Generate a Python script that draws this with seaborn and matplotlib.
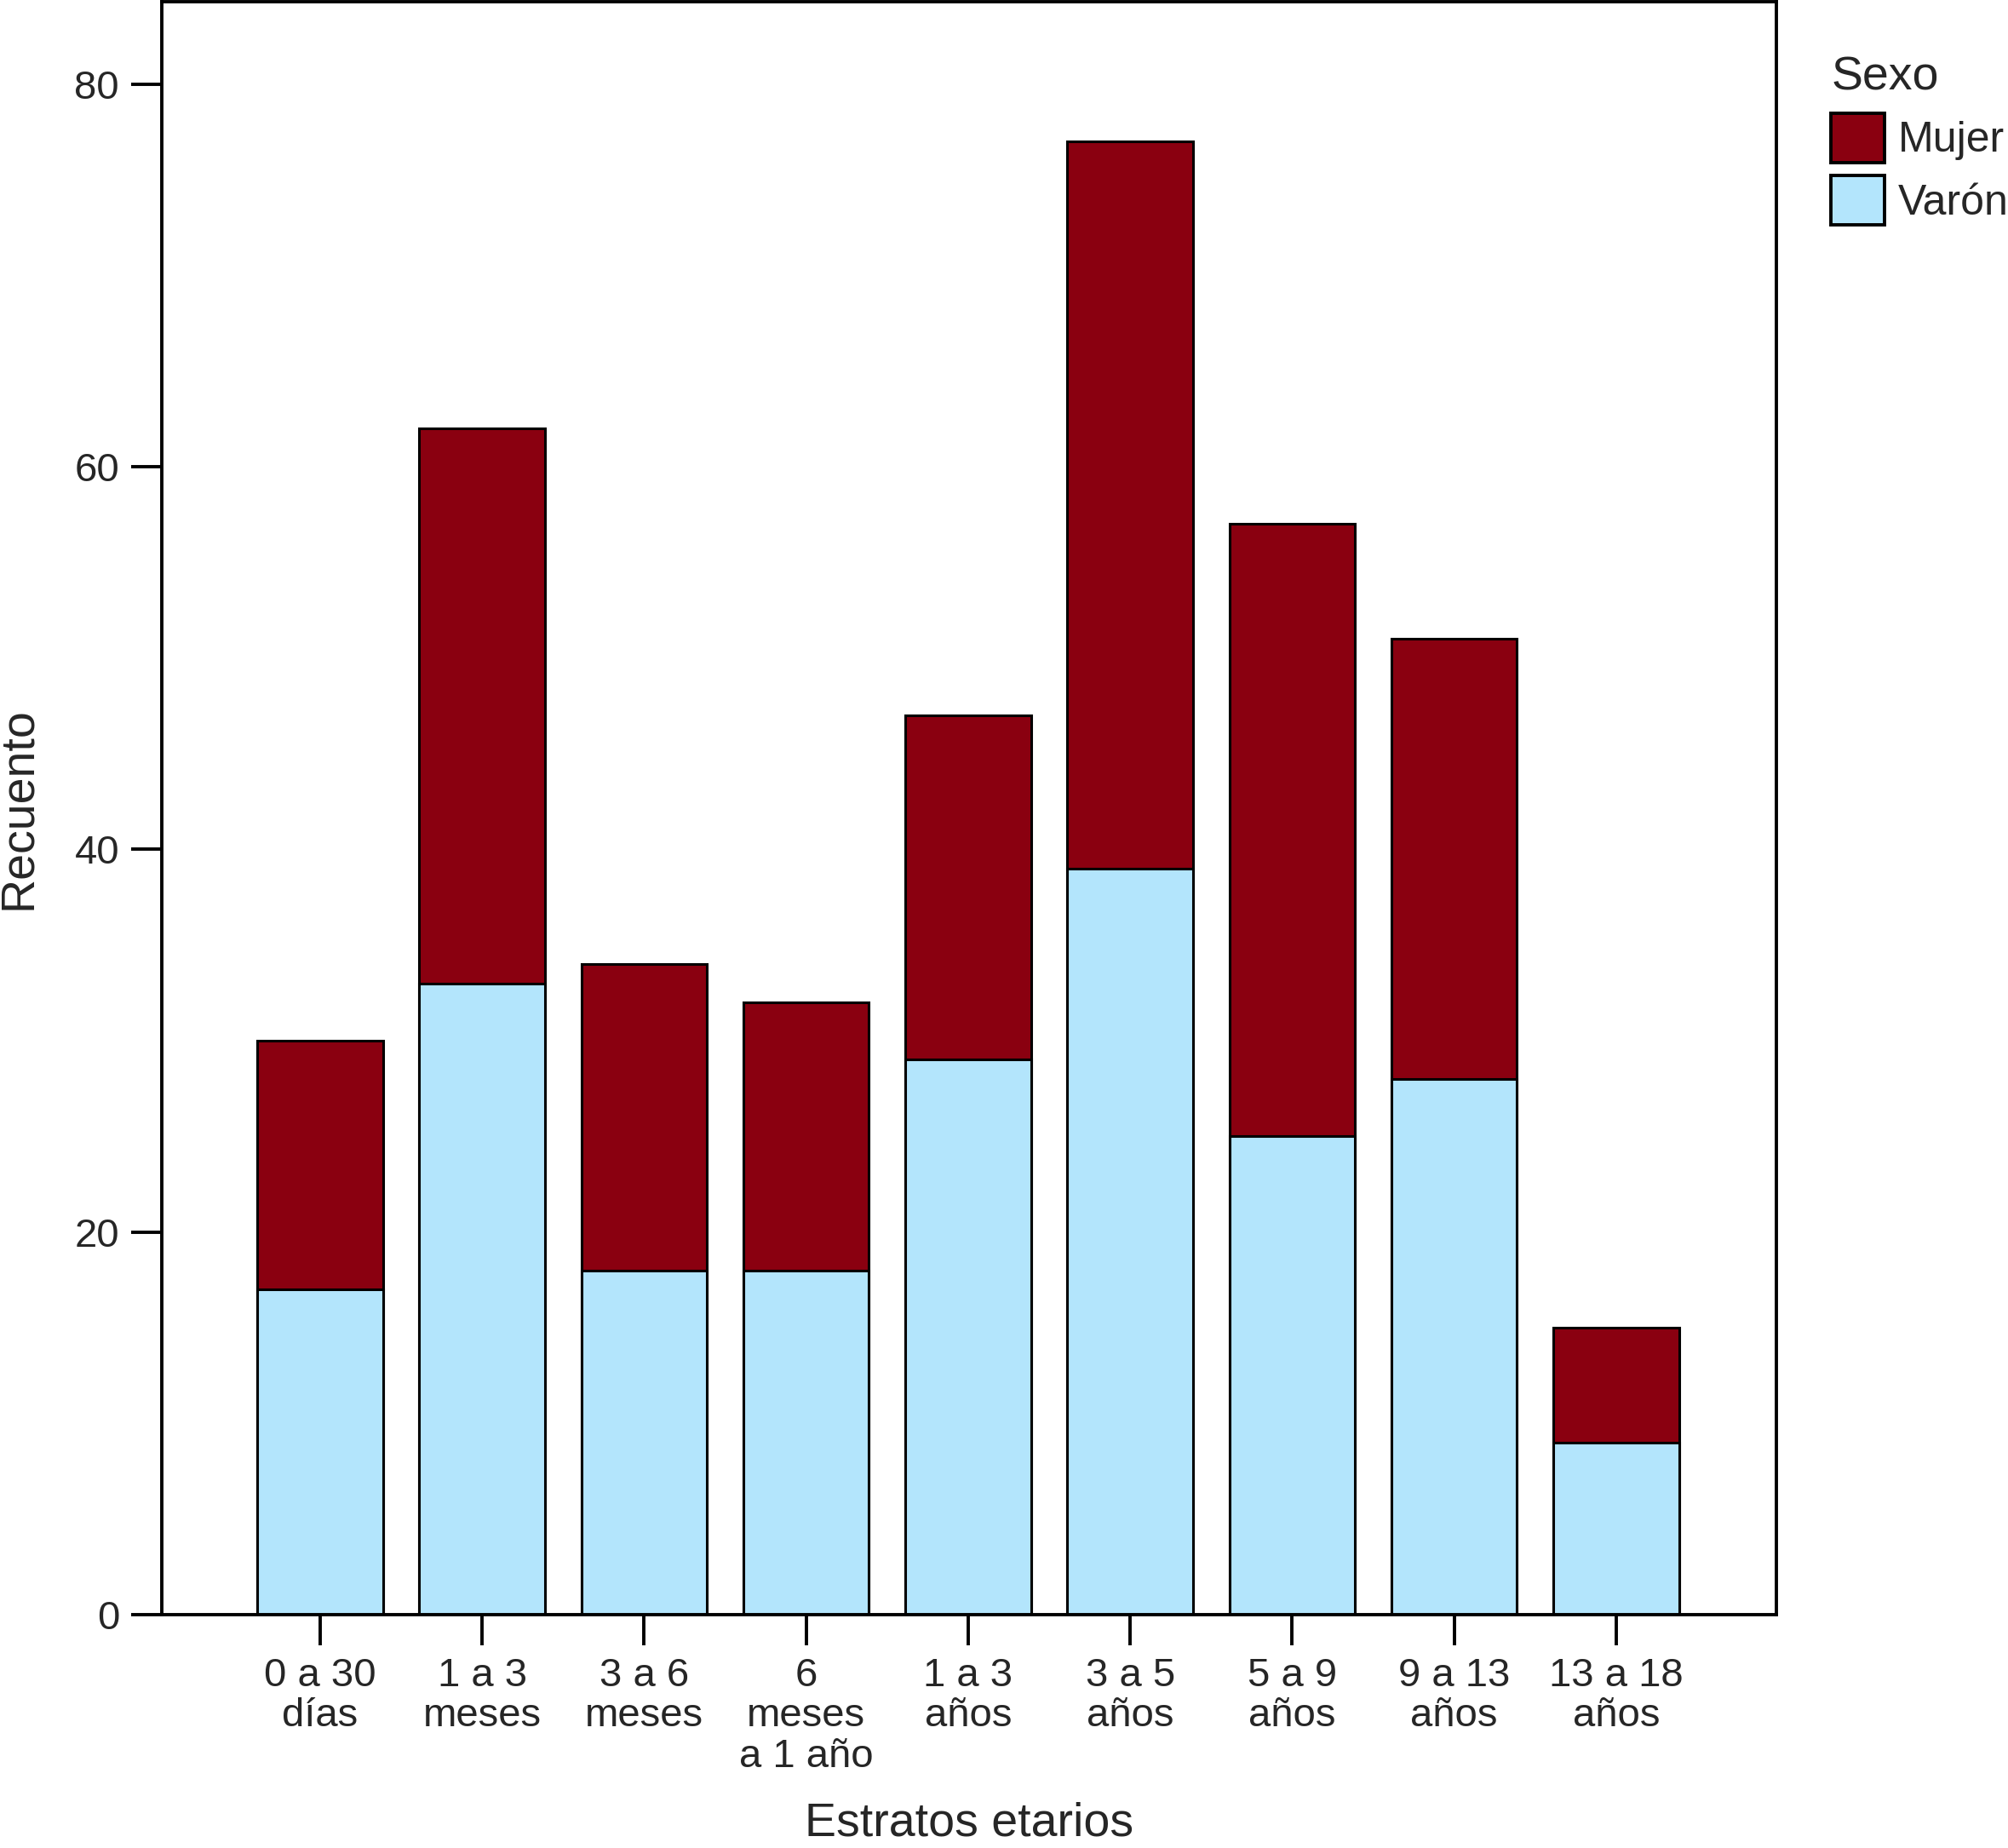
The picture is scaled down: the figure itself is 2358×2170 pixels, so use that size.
import matplotlib
matplotlib.use("Agg")
import matplotlib.pyplot as plt
import numpy as np
import pandas as pd
import seaborn as sns
from matplotlib.patches import Patch

# Data
estratos = [
    "0 a 30\ndías",
    "1 a 3\nmeses",
    "3 a 6\nmeses",
    "6\nmeses\na 1 año",
    "1 a 3\naños",
    "3 a 5\naños",
    "5 a 9\naños",
    "9 a 13\naños",
    "13 a 18\naños",
]
varon = [17, 33, 18, 18, 29, 39, 25, 28, 9]
mujer = [13, 29, 16, 14, 18, 38, 32, 23, 6]

COLOR_MUJER = "#8a0010"
COLOR_VARON = "#b3e5fc"

sns.set_style("white")
plt.rcParams["font.family"] = ["Liberation Sans", "DejaVu Sans"]

df = pd.DataFrame({"estrato": estratos, "varon": varon, "mujer": mujer})
df["total"] = df["varon"] + df["mujer"]

dpi = 200
fig = plt.figure(figsize=(2358 / dpi, 2170 / dpi), dpi=dpi)
ax = fig.add_axes([0.0806, 0.1263, 0.804, 0.8728])

bar_kw = dict(order=estratos, width=0.775, edgecolor="black", linewidth=1.1, ax=ax)
sns.barplot(data=df, x="estrato", y="total", color=COLOR_MUJER, saturation=1, **bar_kw)
sns.barplot(data=df, x="estrato", y="varon", color=COLOR_VARON, saturation=1, **bar_kw)

ax.set_xlim(-0.977, 8.988)
ax.set_ylim(0, 84.3)
ax.set_yticks([0, 20, 40, 60, 80])

for side in ["left", "right", "top", "bottom"]:
    ax.spines[side].set_visible(True)
    ax.spines[side].set_color("black")
    ax.spines[side].set_linewidth(1.4)

ax.tick_params(axis="both", direction="out", length=13, width=1.4, color="black",
               left=True, bottom=True, labelsize=17, pad=5)
for lbl in ax.get_xticklabels():
    lbl.set_fontsize(17)
    lbl.set_linespacing(1.1)
for lbl in ax.get_yticklabels():
    lbl.set_fontsize(17)

ax.set_xlabel("Estratos etarios", fontsize=20, labelpad=11)
ax.set_ylabel("Recuento", fontsize=20, labelpad=14)

handles = [
    Patch(facecolor=COLOR_MUJER, edgecolor="black", linewidth=1.4, label="Mujer"),
    Patch(facecolor=COLOR_VARON, edgecolor="black", linewidth=1.4, label="Varón"),
]
leg = fig.legend(
    handles=handles,
    title="Sexo",
    loc="upper left",
    bbox_to_anchor=(0.9035, 0.979),
    frameon=False,
    fontsize=18,
    title_fontsize=20,
    handlelength=1.25,
    handleheight=1.42,
    handletextpad=0.32,
    labelspacing=0.3,
    borderaxespad=0,
    alignment="left",
)

fig.savefig("out.png", dpi=dpi)
